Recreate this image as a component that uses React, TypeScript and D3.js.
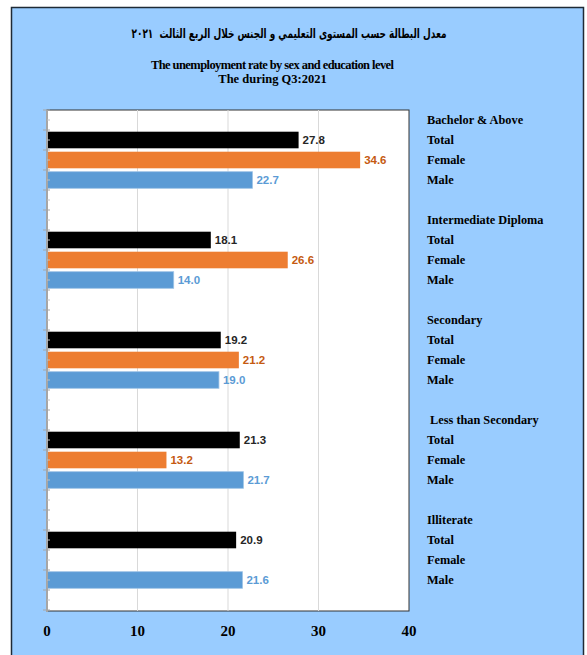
import React from "react";
import * as d3 from "d3";

const categories = ["Bachelor & Above", "Intermediate Diploma", "Secondary", " Less than Secondary", "Illiterate"];
const seriesNames = ["Total", "Female", "Male"];
const totalValues = [27.8, 18.1, 19.2, 21.3, 20.9];
const femaleValues: (number | null)[] = [34.6, 26.6, 21.2, 13.2, null];
const maleValues = [22.7, 14.0, 19.0, 21.7, 21.6];
const xTicks = [0, 10, 20, 30, 40];

const arabicTitle = "معدل البطالة حسب المستوى التعليمي و الجنس خلال الربع الثالث  ٢٠٢١";
const titleLine1 = "The unemployment rate by sex and education level";
const titleLine2 = "The during Q3:2021";

const W = 587, H = 655;
const plot = { left: 47, right: 409, top: 110, bottom: 611 };
const barColors = ["#000000", "#ED7D31", "#5B9BD5"];
const labelColors = ["#262626", "#C55A11", "#5B9BD5"];
const serif = "'Liberation Serif', 'Times New Roman', serif";
const sans = "'Liberation Sans', Arial, sans-serif";

export default function App() {
  const x = d3.scaleLinear().domain([0, 40]).range([plot.left, plot.right]);
  const rows = d3.range(categories.length * 5);
  const y = d3.scaleBand<number>().domain(rows).range([plot.top, plot.bottom - 1]).paddingInner(0.17).paddingOuter(0.085);
  const step = y.step();
  const rowTop = (r: number) => plot.top + r * step;
  const rowMid = (r: number) => rowTop(r) + step / 2;
  const series = [totalValues, femaleValues, maleValues];

  return (
    <svg width={W} height={H} style={{ position: "fixed", left: 0, top: 0 }}>
      <rect x={0} y={0} width={W} height={H} fill="#ffffff" />
      <rect x={11.5} y={7.5} width={572} height={H} fill="#99CCFF" stroke="#1f2a35" strokeWidth={1.5} />
      <text x={289} y={34} textAnchor="middle" dominantBaseline="middle" direction="rtl" fontFamily="'DejaVu Sans', sans-serif" fontWeight="bold" fontSize={13} textLength={315} lengthAdjust="spacingAndGlyphs" style={{ whiteSpace: "pre" }}>{arabicTitle}</text>
      <text x={272.5} y={66} textAnchor="middle" dominantBaseline="middle" fontFamily={serif} fontWeight="bold" fontSize={12.5} textLength={243} lengthAdjust="spacing">{titleLine1}</text>
      <text x={272.5} y={80} textAnchor="middle" dominantBaseline="middle" fontFamily={serif} fontWeight="bold" fontSize={12.5}>{titleLine2}</text>

      <rect x={plot.left} y={plot.top} width={plot.right - plot.left} height={plot.bottom - plot.top} fill="#ffffff" stroke="#333" strokeWidth={1} />
      {xTicks.slice(1, -1).map((t) => (
        <line key={t} x1={x(t)} x2={x(t)} y1={plot.top} y2={plot.bottom} stroke="#d9d9d9" strokeWidth={1} />
      ))}

      {categories.map((c, ci) =>
        series.map((vals, si) => {
          const v = vals[ci];
          if (v == null) return null;
          const r = ci * 5 + 1 + si;
          const by = y(r)!;
          return (
            <g key={`${ci}-${si}`}>
              <rect x={x(0)} y={by} width={x(v) - x(0)} height={y.bandwidth()} fill={barColors[si]} stroke={si === 2 ? "#9dc3e6" : "none"} strokeWidth={0.8} />
              <text x={x(v) + 4} y={by + y.bandwidth() / 2 + 0.5} dominantBaseline="middle" fontFamily={sans} fontWeight="bold" fontSize={11.5} fill={labelColors[si]}>{d3.format(".1f")(v)}</text>
            </g>
          );
        })
      )}

      <line x1={plot.left} x2={plot.left} y1={plot.top} y2={plot.bottom + 1} stroke="#a6a6a6" strokeWidth={2} />
      {d3.range(rows.length + 1).map((i) => (
        <line key={`t${i}`} x1={43} x2={50} y1={rowTop(i)} y2={rowTop(i)} stroke="#a6a6a6" strokeWidth={1} />
      ))}
      {rows.map((i) => (
        <line key={`m${i}`} x1={47} x2={50} y1={rowMid(i)} y2={rowMid(i)} stroke="#bfbfbf" strokeWidth={1} />
      ))}

      {xTicks.map((t) => (
        <text key={t} x={x(t)} y={633} textAnchor="middle" dominantBaseline="middle" fontFamily={serif} fontWeight="bold" fontSize={15}>{t}</text>
      ))}

      {categories.map((c, ci) => (
        <g key={c}>
          <text x={427} y={rowMid(ci * 5) + 1.5} dominantBaseline="middle" fontFamily={serif} fontWeight="bold" fontSize={12.3} style={{ whiteSpace: "pre" }}>{c}</text>
          {seriesNames.map((s, si) => (
            <text key={s} x={427} y={rowMid(ci * 5 + 1 + si) + 1.5} dominantBaseline="middle" fontFamily={serif} fontWeight="bold" fontSize={12.3}>{s}</text>
          ))}
        </g>
      ))}
    </svg>
  );
}
